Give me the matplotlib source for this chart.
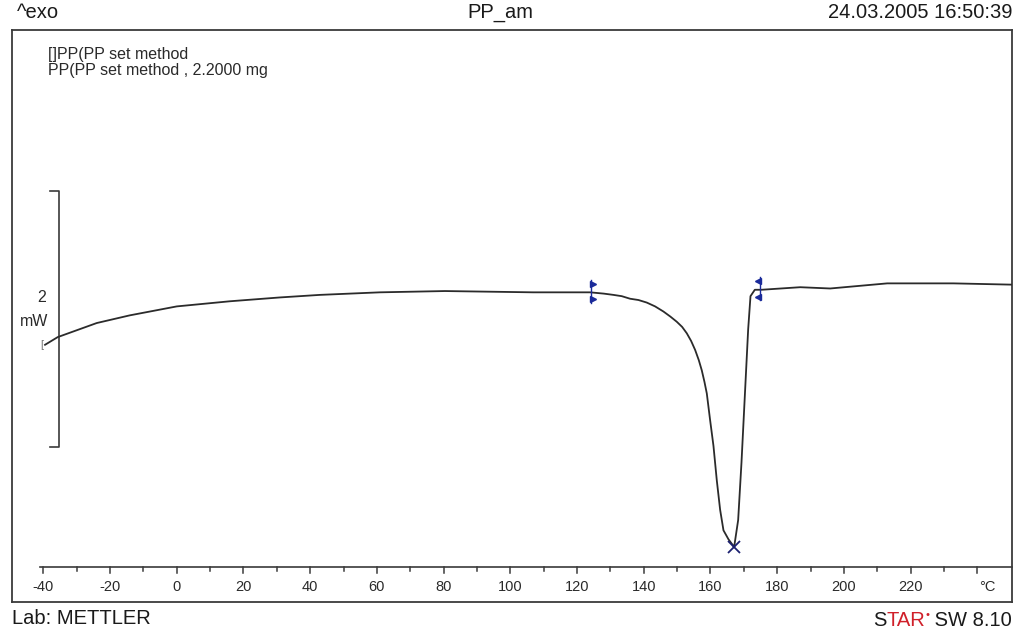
import numpy as np
import matplotlib
matplotlib.use("Agg")
import matplotlib.pyplot as plt

# ---- data ----
temperature = [-39.5, -35.7, -24.0, -14.1, 0.0, 15.9, 30.9, 42.9, 60.9, 80.4, 106.8,
               123.9, 128.0, 130.9, 133.4, 135.9, 138.4, 140.9, 143.4, 145.9, 148.0,
               149.9, 151.5, 152.9, 154.2, 155.4, 156.5, 157.4, 158.2, 158.9,
               159.9, 160.9, 161.9, 162.9, 163.9, 165.4, 167.1, 168.3, 169.3, 170.3,
               171.3, 172.0, 173.3, 175.3, 186.9, 195.9, 213.0, 232.8, 250.4]
heat_flow = [0.43, 0.49, 0.60, 0.66, 0.73, 0.77, 0.80, 0.82, 0.84, 0.85, 0.84,
             0.84, 0.83, 0.82, 0.81, 0.79, 0.78, 0.76, 0.73, 0.69, 0.65,
             0.61, 0.57, 0.52, 0.46, 0.39, 0.31, 0.23, 0.14, 0.05,
             -0.16, -0.36, -0.63, -0.86, -1.02, -1.09, -1.15, -0.94, -0.49, 0.03,
             0.55, 0.81, 0.86, 0.86, 0.88, 0.87, 0.91, 0.91, 0.90]
eval_limits = [124.2, 174.8]
tick_values = list(range(-40, 250, 10))
tick_labels = [str(v) for v in range(-40, 240, 20)]
scale_mw = 2

title = "PP_am"
timestamp = "24.03.2005 16:50:39"
legend_lines = ["[]PP(PP set method", "PP(PP set method , 2.2000 mg"]

# ---- figure ----
W, H = 1021, 631
fig = plt.figure(figsize=(W / 100, H / 100), dpi=100)
fig.patch.set_facecolor("white")
FONT = "Liberation Sans"

ax = fig.add_axes([12 / W, (H - 602) / H, 1000 / W, 572 / H])
ax.set_xlim(-49.4, 250.4)
ax.set_ylim(-1.58, 2.89)
ax.set_xticks([])
ax.set_yticks([])
for s in ax.spines.values():
    s.set_color("#3a3a3a")
    s.set_linewidth(1.3)

# curve
ax.plot(temperature, heat_flow, color="#2b2b2b", lw=1.3, zorder=3)

# peak marker
i_min = int(np.argmin(heat_flow))
ax.plot(temperature[i_min], heat_flow[i_min], marker="x", color="#1c2170",
        ms=8, mew=1.3, zorder=4)

# evaluation limit markers
navy = "#1a2a9a"
for k, tl in enumerate(eval_limits):
    yv = np.interp(tl, temperature, heat_flow)
    mk = ">" if k == 0 else "<"
    ax.plot([tl, tl], [yv - 0.08, yv + 0.10], color=navy, lw=1.0, zorder=4)
    ax.plot(tl + (0.6 if k == 0 else -0.6), yv + 0.065, marker=mk, color=navy, ms=4.5, zorder=5)
    ax.plot(tl + (0.6 if k == 0 else -0.6), yv - 0.055, marker=mk, color=navy, ms=4.5, zorder=5)

# inner temperature axis
axis_y = -1.305
ax.plot([-41, 250.4], [axis_y, axis_y], color="#3a3a3a", lw=1.2, clip_on=False)
for tv in tick_values:
    ln = 0.045 if tv % 20 == 0 else 0.035
    ax.plot([tv, tv], [axis_y, axis_y - ln], color="#3a3a3a", lw=1.1)
for lab in tick_labels:
    ax.text(float(lab), -1.46, lab, ha="center", va="center", fontsize=10.5,
            family=FONT, color="#2a2a2a")
ax.text(243, -1.46, "°C", ha="center", va="center", fontsize=10.5, family=FONT, color="#2a2a2a")

# scale bracket (2 mW)
top, bot = 1.633, 1.633 - scale_mw
ax.plot([-38.1, -35.35, -35.35, -38.1], [top, top, bot, bot], color="#3a3a3a", lw=1.2)
ax.text(-39.2, 0.80, str(scale_mw), ha="right", va="center", fontsize=11.5, family=FONT, color="#2a2a2a")
ax.text(-38.6, 0.61, "mW", ha="right", va="center", fontsize=11.5, family=FONT, color="#2a2a2a")
ax.text(-40.6, 0.43, "[", ha="center", va="center", fontsize=8, family=FONT, color="#777777")

# legend text
ax.text(0.036, (602 - 55) / 572, legend_lines[0], transform=ax.transAxes, ha="left", va="center",
        fontsize=11.5, family=FONT, color="#2a2a2a")
ax.text(0.036, (602 - 70) / 572, legend_lines[1], transform=ax.transAxes, ha="left", va="center",
        fontsize=11.5, family=FONT, color="#2a2a2a")

# header / footer texts
fig.text(17 / W, 1 - 12 / H, "^exo", ha="left", va="center", fontsize=14.5, family=FONT, color="#1a1a1a")
fig.text(500 / W, 1 - 13 / H, title, ha="center", va="center", fontsize=14.5, family=FONT, color="#1a1a1a")
fig.text(1012 / W, 1 - 12 / H, timestamp, ha="right", va="center", fontsize=14.5, family=FONT, color="#1a1a1a")
fig.text(12 / W, 1 - 619 / H, "Lab: METTLER", ha="left", va="center", fontsize=14.5, family=FONT, color="#1a1a1a")

# STAR logo, built right to left
renderer = fig.canvas.get_renderer()
ybase = 1 - 620 / H
parts = [(" SW 8.10", "#1a1a1a", 14.5, 0), ("•", "#d0202a", 8, 0.008),
         ("TAR", "#d0202a", 14.5, 0), ("S", "#1a1a1a", 14.5, 0)]
xr = 1012 / W
for txt, col, fs, dy in parts:
    t = fig.text(xr, ybase + dy, txt, ha="right", va="center", fontsize=fs, family=FONT, color=col)
    bb = t.get_window_extent(renderer=renderer)
    xr -= bb.width / W

fig.savefig("out.png", dpi=100, facecolor="white")
